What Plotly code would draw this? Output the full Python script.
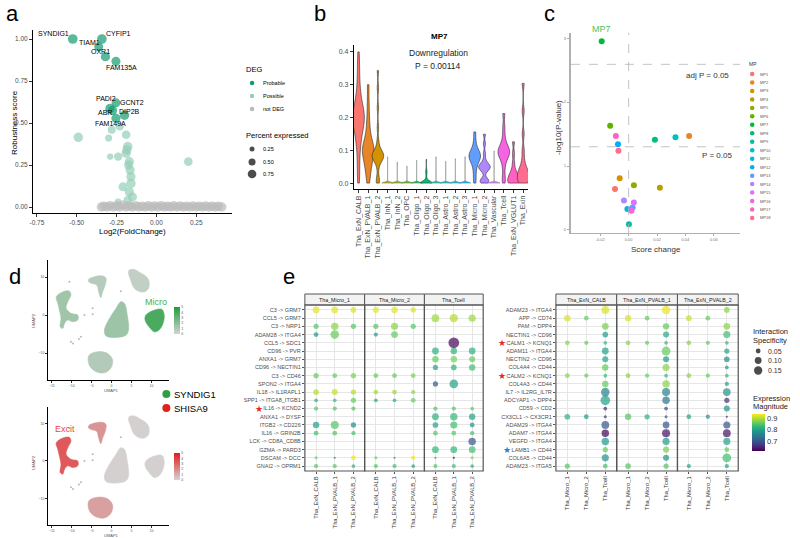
import numpy as np
import plotly.graph_objects as go
from plotly.colors import sample_colorscale

W, H = 800, 538
FONT = "Liberation Sans, Arial, Helvetica, sans-serif"
TICKC = "#4d4d4d"


def fx(x):
    return x / W


def fy(y):
    return 1 - y / H


N = None

# ======================= DATA =======================
# ---- panel a ----
prob_genes = ["SYNDIG1", "CYFIP1", "TIAM1", "OXR1", "FAM135A", "PADI2", "GCNT2", "ABR", "DIP2B", "FAM149A"]
prob_lfc = [-0.525, -0.342, -0.362, -0.320, -0.254, -0.292, -0.254, -0.275, -0.200, -0.254]
prob_rob = [1.000, 1.000, 0.954, 0.895, 0.867, 0.587, 0.620, 0.575, 0.546, 0.528]
prob_pct = [0.95, 0.92, 0.80, 0.85, 0.82, 0.85, 0.80, 0.85, 0.88, 0.82]
poss_lfc = [-0.490, 0.200, -0.280, -0.230, -0.300, -0.190, -0.290, -0.240, -0.180, -0.190, -0.170,
            -0.160, -0.160, -0.170, -0.150, -0.180, -0.210, -0.240, -0.165, -0.185, -0.175]
poss_rob = [0.415, 0.270, 0.460, 0.480, 0.410, 0.430, 0.300, 0.300, 0.360, 0.320, 0.270,
            0.180, 0.140, 0.090, 0.060, 0.040, 0.120, 0.030, 0.220, 0.340, 0.250]
poss_pct = [0.90, 0.75, 0.65, 0.70, 0.50, 0.75, 0.40, 0.70, 0.90, 0.85, 0.85,
            0.85, 0.90, 0.85, 0.80, 0.75, 0.80, 0.50, 0.85, 0.85, 0.80]
nodeg_lfc = [-0.345, -0.33, -0.31, -0.29, -0.27, -0.25, -0.23, -0.21, -0.19, -0.17, -0.15, -0.13, -0.11,
             -0.09, -0.07, -0.05, -0.03, -0.01, 0.01, 0.03, 0.05, 0.07, 0.09, 0.11, 0.13, 0.15, 0.17,
             0.19, 0.21, 0.23, 0.25, 0.27, 0.29, 0.31, 0.33, 0.35, 0.37, 0.39, 0.41]
nodeg_rob = [0.0, 0.005, 0.0, 0.008, 0.0, 0.006, 0.0, 0.01, 0.0, 0.006, 0.0, 0.008, 0.0,
             0.005, 0.0, 0.007, 0.0, 0.006, 0.0, 0.008, 0.0, 0.005, 0.0, 0.007, 0.0, 0.006, 0.0,
             0.005, 0.0, 0.006, 0.0, 0.005, 0.0, 0.006, 0.0, 0.005, 0.0, 0.004, 0.0]
nodeg_pct = [0.9] * len(nodeg_lfc)

# ---- panel b ----
viol_cats = ["Tha_ExN_CALB", "Tha_ExN_PVALB_1", "Tha_ExN_PVALB_2", "Tha_InN_1", "Tha_InN_2", "Tha_OPC",
             "Tha_Oligo_1", "Tha_Oligo_2", "Tha_Oligo_3", "Tha_Astro_1", "Tha_Astro_2", "Tha_Astro_3",
             "Tha_Micro_1", "Tha_Micro_2", "Tha_Vascular", "Tha_Tcell", "Tha_ExN_VGLUT1", "Tha_Exin"]
viol_vals = [
    [0.0, 0.03, 0.06, 0.09, 0.11, 0.13, 0.14, 0.15, 0.16, 0.17, 0.18, 0.18, 0.19, 0.19, 0.20, 0.20, 0.21,
     0.21, 0.22, 0.22, 0.23, 0.24, 0.25, 0.26, 0.28, 0.30, 0.33, 0.36, 0.40],
    [0.0, 0.02, 0.04, 0.05, 0.06, 0.07, 0.08, 0.09, 0.09, 0.10, 0.10, 0.11, 0.11, 0.12, 0.13, 0.14, 0.16,
     0.18, 0.21, 0.25, 0.30],
    [0.0, 0.003, 0.02, 0.05, 0.065, 0.07, 0.075, 0.078, 0.08, 0.082, 0.085, 0.088, 0.09, 0.095, 0.10, 0.11,
     0.13, 0.17, 0.23, 0.29, 0.343],
    [0.0] * 30 + [0.080],
    [0.0] * 30 + [0.064],
    [0.0] * 30 + [0.051],
    [0.0] * 30 + [0.069],
    [0.0] * 20 + [0.002, 0.004, 0.01, 0.02, 0.03, 0.035, 0.04, 0.072],
    [0.0] * 30 + [0.080],
    [0.0] * 30 + [0.066],
    [0.0] * 30 + [0.074],
    [0.0] * 30 + [0.080],
    [0.0, 0.02, 0.04, 0.055, 0.065, 0.07, 0.075, 0.08, 0.082, 0.085, 0.09, 0.095, 0.10, 0.11, 0.13, 0.156],
    [0.0, 0.003, 0.006, 0.01, 0.013, 0.035, 0.04, 0.045, 0.048, 0.05, 0.052, 0.055, 0.06, 0.07, 0.09, 0.12, 0.149],
    [0.0] * 30 + [0.098],
    [0.0, 0.02, 0.05, 0.07, 0.08, 0.085, 0.09, 0.095, 0.10, 0.105, 0.11, 0.12, 0.14, 0.17, 0.212],
    [0.0, 0.0, 0.002, 0.005, 0.01, 0.015, 0.02, 0.025, 0.03, 0.04, 0.06, 0.09, 0.126],
    [0.0, 0.002, 0.005, 0.01, 0.02, 0.025, 0.03, 0.035, 0.04, 0.05, 0.07, 0.10, 0.15, 0.22, 0.304],
]
viol_title = "MP7"
viol_sub = ["Downregulation", "P = 0.00114"]

# ---- panel c ----
mp_names = ["MP1", "MP2", "MP3", "MP4", "MP5", "MP6", "MP7", "MP8", "MP9", "MP10", "MP11", "MP12",
            "MP13", "MP14", "MP15", "MP16", "MP17", "MP18"]
mp_score = [-0.0096, 0.0426, -0.0063, 0.022, 0.0037, -0.013, -0.019, 0.0185, 0.0002, 0.033, -0.0009,
            -0.0075, 0.0028, -0.0033, 0.0037, 0.002, -0.009, -0.0072]
mp_logp = [0.64, 1.47, 0.81, 0.66, 0.70, 1.63, 2.95, 1.41, 0.09, 1.45, 0.33, 1.34, 0.35, 0.46, 0.43,
           0.30, 1.47, 1.24]
p_thresh = 1.301
adjp_thresh = 2.59

# ---- panel d (UMAP cluster outlines, UMAP units) ----
cluster_names = ["upper_mid", "upper_right", "left", "center", "right", "bottom"]
cluster_x = [
    [-5.75, -4.3, -2.25, -1.4, -1.6, -2.25, -2.7, -3.25, -3.75, -4.9, -5.75],
    [4.4, 5.7, 7.3, 8.75, 9.4, 9.25, 8.2, 6.5, 5.4, 4.8, 4.25],
    [-13.9, -12.25, -10.6, -10.2, -11.0, -11.4, -10.2, -8.5, -8.5, -9.75, -11.0, -11.8, -12.25, -12.9, -12.7, -13.1, -13.5],
    [2.3, 3.2, 4.0, 4.25, 3.6, 1.1, -1.4, -1.8, -0.75, 1.1],
    [8.6, 10.7, 12.6, 13.2, 12.9, 11.9, 10.7, 9.4, 8.4],
    [-5.6, -3.5, -1.0, 0.25, -0.2, -1.8, -3.9, -5.4, -5.9],
]
cluster_y = [
    [9.4, 10.1, 10.3, 9.7, 7.9, 6.1, 4.6, 6.1, 7.9, 8.3, 8.8],
    [11.8, 12.0, 11.1, 10.1, 8.8, 7.0, 6.1, 6.4, 7.5, 9.2, 11.0],
    [4.8, 6.1, 6.3, 5.3, 3.5, 1.8, 0.45, 0.0, -1.3, -1.75, -1.3, -2.2, -3.5, -3.1, -0.9, 1.3, 3.1],
    [3.5, 3.1, -0.45, -3.95, -5.3, -5.9, -5.5, -3.95, -1.3, 1.75],
    [0.0, 1.3, 1.5, 0.0, -2.2, -3.95, -4.4, -3.1, -1.3],
    [-10.5, -9.65, -10.1, -11.8, -14.0, -15.2, -14.9, -13.6, -11.8],
]
syndig1_expr = [0.8, 0.5, 1.4, 1.5, 3.8, 0.9]
shisa9_expr = [1.7, 0.1, 3.3, 0.1, 0.1, 1.4]
island_x = [-10.6, 2.3, -7.7, -8.2, -10.2, -9.7, -6.8, -4.75, -4.75]
island_y = [8.8, 6.3, -5.7, -6.3, -7.0, -7.5, 0.0, 1.8, 0.2]
genes_d = ["SYNDIG1", "SHISA9"]

# ---- panel e ----
rows_e1 = ["C3 -> GRM7", "CCL5 -> GRM7", "C3 -> NRP1", "ADAM28 -> ITGA4", "CCL5 -> SDC1", "CD96 -> PVR",
           "ANXA1 -> GRM7", "CD96 -> NECTIN1", "C3 -> CD46", "SPON2 -> ITGA4", "IL18 -> IL1RAPL1",
           "SPP1 -> ITGA8_ITGB1", "IL16 -> KCND2", "ANXA1 -> DYSF", "ITGB2 -> CD226", "IL16 -> GRIN2B",
           "LCK -> CD8A_CD8B", "GZMA -> PARD3", "DSCAM -> DCC", "GNAI2 -> OPRM1"]
facets_e1 = ["Tha_Micro_1", "Tha_Micro_2", "Tha_Tcell"]
cols_e1 = ["Tha_ExN_CALB", "Tha_ExN_PVALB_1", "Tha_ExN_PVALB_2"]
spec_e1 = [
    [0.10, 0.10, 0.07, 0.08, 0.09, 0.06, N, N, N],
    [N, N, N, N, N, N, 0.13, 0.15, 0.11],
    [0.06, 0.12, 0.06, 0.06, 0.11, 0.06, N, N, N],
    [0.05, 0.16, N, 0.04, 0.10, N, N, N, N],
    [N, N, N, N, N, N, N, 0.25, N],
    [N, N, N, N, N, N, 0.10, 0.09, 0.10],
    [N, N, N, N, N, N, 0.09, 0.09, 0.08],
    [N, N, N, N, N, N, 0.06, 0.07, 0.09],
    [0.06, 0.05, 0.06, 0.05, 0.05, 0.05, N, N, N],
    [N, N, N, N, N, N, 0.06, 0.16, N],
    [0.07, 0.08, 0.06, 0.05, 0.05, 0.04, N, N, N],
    [0.03, 0.03, 0.06, 0.03, 0.03, 0.05, N, N, N],
    [0.04, 0.04, 0.04, N, N, N, 0.04, 0.04, 0.03],
    [N, N, N, N, N, N, 0.10, 0.12, 0.09],
    [0.09, 0.14, 0.06, N, N, N, 0.07, 0.11, 0.05],
    [0.05, 0.05, 0.04, N, N, N, 0.05, 0.05, 0.04],
    [N, N, N, N, N, N, N, N, 0.12],
    [N, N, N, N, N, N, 0.10, 0.10, 0.10],
    [0.02, 0.01, 0.05, 0.02, 0.01, 0.04, 0.01, 0.01, 0.02],
    [0.04, 0.04, 0.03, 0.04, 0.04, 0.03, 0.04, 0.04, 0.03],
]
mag_e1 = [
    [0.925, 0.925, 0.92, 0.925, 0.925, 0.92, N, N, N],
    [N, N, N, N, N, N, 0.89, 0.90, 0.89],
    [0.85, 0.88, 0.85, 0.85, 0.88, 0.85, N, N, N],
    [0.79, 0.86, N, 0.79, 0.86, N, N, N, N],
    [N, N, N, N, N, N, N, 0.62, N],
    [N, N, N, N, N, N, 0.82, 0.82, 0.82],
    [N, N, N, N, N, N, 0.86, 0.87, 0.86],
    [N, N, N, N, N, N, 0.80, 0.82, 0.84],
    [0.86, 0.86, 0.87, 0.86, 0.86, 0.87, N, N, N],
    [N, N, N, N, N, N, 0.70, 0.80, N],
    [0.90, 0.91, 0.90, 0.89, 0.89, 0.88, N, N, N],
    [0.81, 0.83, 0.86, 0.80, 0.81, 0.86, N, N, N],
    [0.85, 0.85, 0.85, N, N, N, 0.85, 0.85, 0.85],
    [N, N, N, N, N, N, 0.82, 0.83, 0.80],
    [0.80, 0.85, 0.77, N, N, N, 0.80, 0.84, 0.78],
    [0.84, 0.85, 0.84, N, N, N, 0.85, 0.85, 0.84],
    [N, N, N, N, N, N, N, N, 0.70],
    [N, N, N, N, N, N, 0.83, 0.83, 0.84],
    [0.86, 0.75, 0.93, 0.86, 0.75, 0.93, 0.77, 0.62, 0.87],
    [0.85, 0.85, 0.82, 0.85, 0.84, 0.80, 0.85, 0.84, 0.82],
]
rows_e2 = ["ADAM23 -> ITGA4", "APP -> CD74", "PAM -> DPP4", "NECTIN1 -> CD96", "CALM1 -> KCNQ1",
           "ADAM11 -> ITGA4", "NECTIN2 -> CD96", "COL4A4 -> CD44", "CALM2 -> KCNQ1", "COL4A3 -> CD44",
           "IL7 -> IL2RG_IL7R", "ADCYAP1 -> DPP4", "CD59 -> CD2", "CX3CL1 -> CX3CR1", "ADAM29 -> ITGA4",
           "ADAM7 -> ITGA4", "VEGFD -> ITGA4", "LAMB1 -> CD44", "COL6A5 -> CD44", "ADAM23 -> ITGA5"]
facets_e2 = ["Tha_ExN_CALB", "Tha_ExN_PVALB_1", "Tha_ExN_PVALB_2"]
cols_e2 = ["Tha_Micro_1", "Tha_Micro_2", "Tha_Tcell"]
spec_e2 = [
    [N, N, 0.13, N, N, 0.16, N, N, 0.07],
    [0.09, 0.05, N, 0.09, 0.05, N, 0.07, 0.05, N],
    [N, N, 0.10, N, N, 0.09, N, N, 0.10],
    [N, N, 0.07, N, N, 0.08, N, N, 0.11],
    [0.05, 0.04, 0.03, 0.05, 0.04, 0.03, 0.05, 0.04, 0.03],
    [N, N, 0.10, N, N, 0.17, N, N, 0.06],
    [N, N, 0.08, N, N, 0.08, N, N, 0.07],
    [N, N, 0.09, N, N, 0.11, N, N, 0.03],
    [0.05, 0.04, 0.03, 0.05, 0.04, 0.03, 0.05, 0.04, 0.03],
    [N, N, 0.09, N, N, 0.12, N, N, 0.04],
    [N, N, 0.16, N, N, 0.14, N, N, 0.13],
    [N, N, 0.20, N, N, 0.12, N, N, 0.06],
    [N, N, 0.03, N, N, 0.03, N, N, 0.08],
    [0.07, 0.05, 0.02, 0.09, 0.06, 0.02, 0.05, 0.04, 0.01],
    [N, N, 0.13, N, N, 0.10, N, N, 0.11],
    [N, N, 0.12, N, N, 0.14, N, N, 0.13],
    [N, N, 0.12, N, N, 0.11, N, N, 0.11],
    [N, N, 0.06, N, N, 0.08, N, N, 0.05],
    [N, N, 0.11, N, N, 0.08, N, N, 0.17],
    [0.06, N, 0.05, 0.07, N, 0.06, 0.04, N, 0.04],
]
mag_e2 = [
    [N, N, 0.92, N, N, 0.93, N, N, 0.88],
    [0.92, 0.86, N, 0.92, 0.86, N, 0.91, 0.86, N],
    [N, N, 0.87, N, N, 0.86, N, N, 0.88],
    [N, N, 0.79, N, N, 0.81, N, N, 0.84],
    [0.88, 0.86, 0.83, 0.88, 0.86, 0.83, 0.88, 0.86, 0.83],
    [N, N, 0.80, N, N, 0.86, N, N, 0.80],
    [N, N, 0.80, N, N, 0.79, N, N, 0.77],
    [N, N, 0.86, N, N, 0.88, N, N, 0.78],
    [0.88, 0.86, 0.83, 0.88, 0.86, 0.83, 0.88, 0.86, 0.83],
    [N, N, 0.86, N, N, 0.88, N, N, 0.80],
    [N, N, 0.76, N, N, 0.76, N, N, 0.78],
    [N, N, 0.80, N, N, 0.74, N, N, 0.66],
    [N, N, 0.66, N, N, 0.68, N, N, 0.78],
    [0.82, 0.79, 0.66, 0.85, 0.82, 0.70, 0.80, 0.78, 0.64],
    [N, N, 0.70, N, N, 0.70, N, N, 0.70],
    [N, N, 0.62, N, N, 0.63, N, N, 0.63],
    [N, N, 0.79, N, N, 0.79, N, N, 0.80],
    [N, N, 0.86, N, N, 0.87, N, N, 0.86],
    [N, N, 0.78, N, N, 0.78, N, N, 0.84],
    [0.85, N, 0.84, 0.85, N, 0.85, 0.80, N, 0.80],
]
spec_legend = [0.05, 0.10, 0.15]
pct_legend = [0.25, 0.50, 0.75]
deg_levels = ["Probable", "Possible", "not DEG"]
starred_red = ["IL16 -> KCND2", "CALM1 -> KCNQ1", "CALM2 -> KCNQ1"]
starred_blue = ["LAMB1 -> CD44"]

# ======================= STYLE =======================
hue18 = ["#F8766D", "#E88526", "#D39200", "#B79F00", "#93AA00", "#5EB300", "#00BA38", "#00BF74", "#00C19F",
         "#00BFC4", "#00B9E3", "#00ADFA", "#619CFF", "#AE87FF", "#DB72FB", "#F564E3", "#FF61C3", "#FF6C91"]
deg_colors = ["#139b6f", "#93cfb6", "#bababa"]
thin_viol = {3, 4, 5, 6, 8, 9, 10, 11, 14}
viol_bw = [0.028, 0.022, 0.013, 0.003, 0.003, 0.003, 0.003, 0.006, 0.003, 0.003, 0.003, 0.003,
           0.013, 0.008, 0.003, 0.014, 0.011, 0.014]


def pct_size(p):
    return 10.0 * np.sqrt(p)


def spec_size(s):
    return 21.5 * np.sqrt(s)


fig = go.Figure()
ann = []
shapes = []


def T(x, y, text, size, color="#000000", xanchor="center", yanchor="middle", angle=0):
    ann.append(dict(x=fx(x), y=fy(y), xref="paper", yref="paper", text=text, showarrow=False,
                    xanchor=xanchor, yanchor=yanchor, textangle=angle, borderpad=0,
                    font=dict(size=size, color=color, family=FONT)))


# ======================= PANEL A =======================
fig.add_trace(go.Scatter(x=poss_lfc, y=poss_rob, mode="markers", xaxis="x", yaxis="y",
                         marker=dict(color=deg_colors[1], size=[pct_size(p) for p in poss_pct], line=dict(width=0))))
fig.add_trace(go.Scatter(x=nodeg_lfc, y=nodeg_rob, mode="markers", xaxis="x", yaxis="y",
                         marker=dict(color=deg_colors[2], size=[pct_size(p) for p in nodeg_pct], line=dict(width=0))))
fig.add_trace(go.Scatter(x=prob_lfc, y=prob_rob, mode="markers", xaxis="x", yaxis="y",
                         marker=dict(color=deg_colors[0], size=[pct_size(p) for p in prob_pct], line=dict(width=0))))
label_px = [(51, 34), (116, 34), (87, 42), (98, 52), (119, 67), (103, 98), (129, 102), (102, 113), (127, 111), (108, 124)]
for g, (lx, ly) in zip(prob_genes, label_px):
    T(lx, ly, g, 7)
T(130, 231, "Log2(FoldChange)", 8)
T(12, 122, "Robustness score", 8, angle=-90)
T(10, 14, "a", 22)

fig.add_trace(go.Scatter(x=[250, 250, 250], y=[83, 96, 109], mode="markers", xaxis="x12", yaxis="y12",
                         marker=dict(color=deg_colors, size=4.5, line=dict(width=0))))
fig.add_trace(go.Scatter(x=[250, 250, 250], y=[149, 162, 174], mode="markers", xaxis="x12", yaxis="y12",
                         marker=dict(color="#000", size=[pct_size(p) for p in pct_legend], line=dict(width=0))))
T(243, 70, "DEG", 7.5, xanchor="left")
for i, lv in enumerate(deg_levels):
    T(260, 83 + 13 * i, lv, 5.5, xanchor="left")
T(243, 135, "Percent expressed", 7.5, xanchor="left")
for i, p in enumerate(pct_legend):
    T(260, [149, 162, 174][i], "%.2f" % p, 5.5, xanchor="left")

# ======================= PANEL B =======================
for i, (cat, vals) in enumerate(zip(viol_cats, viol_vals)):
    thin = i in thin_viol
    fig.add_trace(go.Violin(x=[cat] * len(vals), y=vals, xaxis="x2", yaxis="y2", name=cat,
                            fillcolor=hue18[i], line=dict(color="#8a8a8a" if thin else "#2b2b2b", width=0.6),
                            width=1.2, scalemode="width", spanmode="hard", bandwidth=viol_bw[i], points=False,
                            box=dict(visible=False), meanline=dict(visible=False), opacity=1))
T(438, 37, "<b>" + viol_title + "</b>", 8)
T(437, 53, viol_sub[0], 8.5, color="#222")
T(437, 66, viol_sub[1], 8.5, color="#222")
T(318, 14, "b", 22)

# ======================= PANEL C =======================
fig.add_trace(go.Scatter(x=mp_score, y=mp_logp, mode="markers", xaxis="x3", yaxis="y3",
                         marker=dict(color=hue18, size=6, line=dict(width=0))))
for yv in (p_thresh, adjp_thresh):
    shapes.append(dict(type="line", xref="x3 domain", yref="y3", x0=0, x1=1, y0=yv, y1=yv,
                       line=dict(color="#b5b5b5", width=0.8, dash="dash")))
shapes.append(dict(type="line", xref="x3", yref="y3 domain", x0=0, x1=0, y0=0, y1=1,
                   line=dict(color="#b5b5b5", width=0.8, dash="dash")))
T(601, 29, mp_names[6], 9, color="#55c25a")
T(707, 75, "adj P = 0.05", 8, color="#333")
T(717, 155, "P = 0.05", 8, color="#333")
T(557, 127, "-log10(P-value)", 8, color="#333", angle=-90)
T(655, 249, "Score change", 8, color="#333")
T(549, 14, "c", 22)
fig.add_trace(go.Scatter(x=[752] * len(mp_names), y=[74 + 8.47 * i for i in range(len(mp_names))],
                         mode="markers", xaxis="x12", yaxis="y12",
                         marker=dict(color=hue18, size=4.5, line=dict(width=0))))
T(748, 64, "MP", 5, color="#333", xanchor="left")
for i, m in enumerate(mp_names):
    T(759, 74 + 8.47 * i, m, 4, color="#555", xanchor="left")

# ======================= PANEL D =======================
green_scale = [[0, "rgb(212,212,212)"], [1, "rgb(30,158,60)"]]
red_scale = [[0, "rgb(212,212,212)"], [1, "rgb(228,26,28)"]]
for (xa, ya, expr, scale, cby) in (("x4", "y4", syndig1_expr, green_scale, 320.5),
                                   ("x5", "y5", shisa9_expr, red_scale, 466.5)):
    cols = sample_colorscale(scale, [v / 5.0 for v in expr])
    for cx, cy, col in zip(cluster_x, cluster_y, cols):
        fig.add_trace(go.Scatter(x=cx + [cx[0]], y=cy + [cy[0]], mode="lines", fill="toself",
                                 fillcolor=col, line=dict(color=col, width=0.6, shape="spline"),
                                 xaxis=xa, yaxis=ya))
    fig.add_trace(go.Scatter(x=island_x, y=island_y, mode="markers", xaxis=xa, yaxis=ya,
                             marker=dict(color="#b8b8b8", size=2)))
    fig.add_trace(go.Scatter(x=[float(np.mean(c)) for c in cluster_x], y=[float(np.mean(c)) for c in cluster_y],
                             mode="markers", xaxis=xa, yaxis=ya,
                             marker=dict(size=1, opacity=0, color=expr, colorscale=scale, cmin=0, cmax=5,
                                         showscale=True,
                                         colorbar=dict(x=fx(172), xanchor="left", y=fy(cby), yanchor="middle",
                                                       len=27, lenmode="pixels", thickness=6,
                                                       thicknessmode="pixels", xpad=0, ypad=0,
                                                       outlinewidth=0, tickvals=[0, 1, 2, 3, 4, 5], ticks="",
                                                       tickfont=dict(size=3.5, color="#555", family=FONT)))))
for (yy, t1) in ((390, "UMAP1"), (535, "UMAP1")):
    T(109, yy, t1, 4, color="#555")
T(30, 320, "UMAP2", 4, color="#555", angle=-90)
T(30, 462, "UMAP2", 4, color="#555", angle=-90)
T(154, 302, "Micro", 9, color="#3cb44b")
T(62, 429, "Excit", 9, color="#e8473a")
fig.add_trace(go.Scatter(x=[164, 164], y=[394, 408], mode="markers", xaxis="x12", yaxis="y12",
                         marker=dict(color=["#2ea043", "#e0201c"], size=8, line=dict(width=0))))
T(171, 394, genes_d[0], 9.5, xanchor="left")
T(171, 408, genes_d[1], 9.5, xanchor="left")
T(12, 276, "d", 22)

# ======================= PANEL E =======================
vir_min, vir_max = 0.615, 0.938


def add_dots(rows, facets, cols, spec, mag, xnames, yname, showscale):
    for fi, fct in enumerate(facets):
        xs, ys, ss, cs = [], [], [], []
        for ri, row in enumerate(rows):
            for ci, col in enumerate(cols):
                s = spec[ri][fi * 3 + ci]
                if s is None:
                    continue
                xs.append(col)
                ys.append(row)
                ss.append(spec_size(s))
                cs.append(mag[ri][fi * 3 + ci])
        mk = dict(size=ss, color=cs, colorscale="Viridis", cmin=vir_min, cmax=vir_max, line=dict(width=0))
        if showscale and fi == 0:
            mk["showscale"] = True
            mk["colorbar"] = dict(x=fx(752), xanchor="left", y=fy(432.5), yanchor="middle", len=37,
                                  lenmode="pixels", thickness=13, thicknessmode="pixels", xpad=0, ypad=0,
                                  outlinewidth=0, tickvals=[0.7, 0.8, 0.9], ticks="",
                                  tickfont=dict(size=7.5, color="#333", family=FONT))
        fig.add_trace(go.Scatter(x=xs, y=ys, mode="markers", xaxis=xnames[fi], yaxis=yname, marker=mk))


add_dots(rows_e1, facets_e1, cols_e1, spec_e1, mag_e1, ["x6", "x7", "x8"], "y6", False)
add_dots(rows_e2, facets_e2, cols_e2, spec_e2, mag_e2, ["x9", "x10", "x11"], "y9", True)

facet_px1 = [(303, 363), (363, 423), (423, 482)]
facet_px2 = [(555, 616), (616, 677), (677, 738)]
for fpx, names in ((facet_px1, facets_e1), (facet_px2, facets_e2)):
    for (a, b), nm in zip(fpx, names):
        shapes.append(dict(type="rect", xref="paper", yref="paper", x0=fx(a), x1=fx(b), y0=fy(305), y1=fy(294),
                           fillcolor="#f2f2f2", line=dict(color="#555", width=1), layer="above"))
        shapes.append(dict(type="rect", xref="paper", yref="paper", x0=fx(a), x1=fx(b), y0=fy(471), y1=fy(305),
                           fillcolor="rgba(0,0,0,0)", line=dict(color="#555", width=1.2), layer="above"))
        T((a + b) / 2, 299.5, nm, 5.3, color="#1a1a1a")

row_y1 = {r: 305 + (i + 0.6) * (166 / 20.2) for i, r in enumerate(rows_e1)}
row_y2 = {r: 305 + (i + 0.6) * (166 / 20.2) for i, r in enumerate(rows_e2)}
for r in starred_red:
    if r in row_y1:
        T(257, row_y1[r], "★", 9, color="#e8262a")
    if r in row_y2:
        T(501, row_y2[r], "★", 9, color="#e8262a")
for r in starred_blue:
    T(506, row_y2[r], "★", 9, color="#2a7fd4")

fig.add_trace(go.Scatter(x=[758, 758, 758], y=[351, 360.5, 370.5], mode="markers", xaxis="x12", yaxis="y12",
                         marker=dict(color="#000", size=[spec_size(s) for s in spec_legend], line=dict(width=0))))
T(752, 331, "Interaction", 7.5, color="#222", xanchor="left")
T(752, 340, "Specificity", 7.5, color="#222", xanchor="left")
for i, s in enumerate(spec_legend):
    T(767, [351, 360.5, 370.5][i], "%.2f" % s, 7, color="#333", xanchor="left")
T(752, 398, "Expression", 7.5, color="#222", xanchor="left")
T(752, 406.5, "Magnitude", 7.5, color="#222", xanchor="left")
T(287, 276, "e", 22)


# ======================= LAYOUT =======================
def classic(**kw):
    d = dict(showline=True, linecolor="#000", linewidth=0.8, ticks="outside", ticklen=3, tickwidth=0.7,
             tickcolor="#333", showgrid=False, zeroline=False, tickfont=dict(size=6.5, color=TICKC, family=FONT),
             fixedrange=True)
    d.update(kw)
    return d


lay = dict(
    xaxis=classic(domain=[fx(30), fx(230)], range=[-0.775, 0.475], anchor="y",
                  tickvals=[-0.75, -0.5, -0.25, 0, 0.25], ticktext=["-0.75", "-0.50", "-0.25", "0.00", "0.25"]),
    yaxis=classic(domain=[fy(213), fy(30)], range=[-0.0357, 1.0536], anchor="x",
                  tickvals=[0, 0.25, 0.5, 0.75, 1.0], ticktext=["0.00", "0.25", "0.50", "0.75", "1.00"]),
    xaxis2=classic(domain=[fx(352), fx(527)], type="category", categoryorder="array", categoryarray=viol_cats,
                   range=[-0.5, 17.5], anchor="y2", tickangle=-90, tickfont=dict(size=7, color=TICKC, family=FONT)),
    yaxis2=classic(domain=[fy(189), fy(45)], range=[-0.018, 0.421], anchor="x2",
                   tickvals=[0, 0.1, 0.2, 0.3, 0.4], ticktext=["0.0", "0.1", "0.2", "0.3", "0.4"],
                   tickfont=dict(size=7, color=TICKC, family=FONT)),
    xaxis3=classic(domain=[fx(570), fx(740)], range=[-0.0407, 0.0786], anchor="y3",
                   linecolor="#b0b0b0", linewidth=1, ticklen=2, tickcolor="#aaa",
                   tickvals=[-0.02, 0, 0.02, 0.04, 0.06], ticktext=["-0.02", "0.00", "0.02", "0.04", "0.06"],
                   tickfont=dict(size=4, color="#777", family=FONT)),
    yaxis3=classic(domain=[fy(233), fy(33)], range=[-0.047, 3.08], anchor="x3",
                   linecolor="#b0b0b0", linewidth=2.2, ticklen=2, tickcolor="#aaa",
                   tickvals=[0, 1, 2, 3], tickfont=dict(size=4, color="#777", family=FONT)),
    xaxis12=dict(domain=[0, 1], range=[0, W], anchor="y12", visible=False, fixedrange=True),
    yaxis12=dict(domain=[0, 1], range=[H, 0], anchor="x12", visible=False, fixedrange=True),
)
for xa, ya, ydom, yr in (("xaxis4", "yaxis4", (380, 260), [-17.1, 14.5]), ("xaxis5", "yaxis5", (525, 407), [-17.07, 14.4])):
    xn = xa.replace("axis", "")
    yn = ya.replace("axis", "")
    lay[xa] = classic(domain=[fx(45), fx(167)], range=[-16, 14.5], anchor=yn, linewidth=0.6, ticklen=2,
                      tickvals=[-15, -10, -5, 0, 5, 10], tickfont=dict(size=3.5, color="#555", family=FONT))
    lay[ya] = classic(domain=[fy(ydom[0]), fy(ydom[1])], range=yr, anchor=xn, linewidth=0.6, ticklen=2,
                      tickvals=[-10, 0, 10], tickfont=dict(size=3.5, color="#555", family=FONT))


def facet_x(dom, cats, yn):
    return dict(domain=[fx(dom[0]), fx(dom[1])], type="category", categoryorder="array", categoryarray=cats,
                range=[-0.6, 2.6], anchor=yn, showline=False, showgrid=True, gridcolor="#e6e6e6", gridwidth=0.6,
                zeroline=False, ticks="outside", ticklen=2, tickcolor="#555", tickangle=-90,
                tickfont=dict(size=5.8, color="#333", family=FONT), fixedrange=True)


def facet_y(xn, rows):
    return dict(domain=[fy(471), fy(305)], type="category", categoryorder="array", categoryarray=rows,
                range=[19.6, -0.6], anchor=xn, showline=False, showgrid=True, gridcolor="#e6e6e6", gridwidth=0.6,
                zeroline=False, ticks="outside", ticklen=2, tickcolor="#555",
                tickfont=dict(size=5.5, color="#4d4d4d", family=FONT), fixedrange=True)


for k, dom in zip(["xaxis6", "xaxis7", "xaxis8"], facet_px1):
    lay[k] = facet_x(dom, cols_e1, "y6")
lay["yaxis6"] = facet_y("x6", rows_e1)
for k, dom in zip(["xaxis9", "xaxis10", "xaxis11"], facet_px2):
    lay[k] = facet_x(dom, cols_e2, "y9")
lay["yaxis9"] = facet_y("x9", rows_e2)

fig.update_layout(width=W, height=H, margin=dict(l=0, r=0, t=0, b=0), paper_bgcolor="white",
                  plot_bgcolor="rgba(0,0,0,0)", showlegend=False, violinmode="overlay",
                  font=dict(family=FONT), annotations=ann, shapes=shapes, **lay)
fig.write_html("out.html")
